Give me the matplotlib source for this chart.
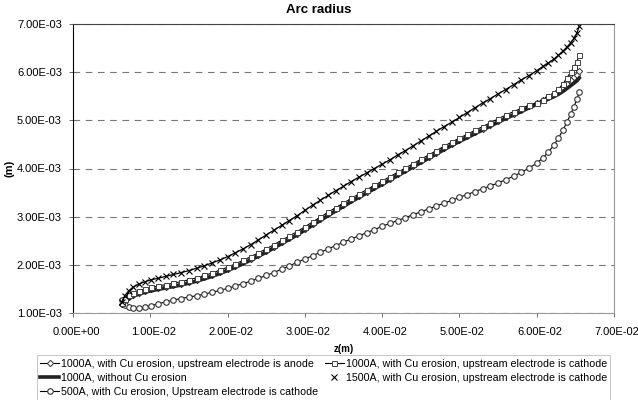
import numpy as np
import matplotlib
matplotlib.use("Agg")
import matplotlib.pyplot as plt
from matplotlib.ticker import FuncFormatter, MultipleLocator
from matplotlib.transforms import ScaledTranslation

plt.rcParams['font.family'] = ['Liberation Sans', 'DejaVu Sans']

# axial position z (mm), shared by all series
z_mm = [6.3, 6.7, 7.2, 7.8, 8.5, 9.3, 10.1, 11.0,
        12, 13, 14, 15, 16, 17, 18, 19, 20, 21, 22, 23, 24, 25, 26, 27, 28, 29,
        30, 31, 32, 33, 34, 35, 36, 37, 38, 39, 40, 41, 42, 43, 44, 45, 46, 47,
        48, 49, 50, 51, 52, 53, 54, 55, 56, 57, 58, 59, 60,
        60.8, 61.5, 62.2, 62.8, 63.4, 63.9, 64.4, 64.8, 65.2, 65.5]

# arc radius (mm) for each case
r_anode = [1.18, 1.27, 1.33, 1.38, 1.42, 1.46, 1.49, 1.52,
           1.55, 1.58, 1.61, 1.65, 1.69, 1.74, 1.79, 1.85, 1.91, 1.98, 2.05, 2.13, 2.21, 2.29, 2.38, 2.47, 2.56, 2.65,
           2.75, 2.85, 2.95, 3.05, 3.15, 3.24, 3.34, 3.43, 3.52, 3.61, 3.70, 3.79, 3.88, 3.97, 4.06, 4.15, 4.24, 4.33,
           4.42, 4.51, 4.59, 4.67, 4.75, 4.83, 4.91, 4.99, 5.07, 5.14, 5.21, 5.29, 5.36,
           5.42, 5.48, 5.54, 5.60, 5.67, 5.75, 5.83, 5.89, 5.95, 6.02]
r_no_cu = [1.16, 1.24, 1.30, 1.35, 1.39, 1.43, 1.46, 1.49,
           1.52, 1.55, 1.58, 1.62, 1.66, 1.71, 1.76, 1.82, 1.88, 1.95, 2.02, 2.10, 2.18, 2.26, 2.35, 2.44, 2.53, 2.62,
           2.72, 2.82, 2.92, 3.02, 3.12, 3.21, 3.31, 3.40, 3.49, 3.58, 3.67, 3.76, 3.85, 3.94, 4.03, 4.12, 4.21, 4.30,
           4.39, 4.48, 4.56, 4.64, 4.72, 4.80, 4.88, 4.96, 5.04, 5.11, 5.18, 5.26, 5.33,
           5.39, 5.44, 5.49, 5.54, 5.60, 5.66, 5.72, 5.77, 5.82, 5.88]
r_500a = [1.26, 1.17, 1.12, 1.10, 1.10, 1.12, 1.15, 1.19,
          1.23, 1.27, 1.30, 1.33, 1.36, 1.39, 1.43, 1.47, 1.51, 1.56, 1.61, 1.66, 1.72, 1.78, 1.84, 1.91, 1.98, 2.05,
          2.12, 2.19, 2.26, 2.33, 2.40, 2.47, 2.54, 2.60, 2.67, 2.73, 2.80, 2.86, 2.92, 2.98, 3.04, 3.10, 3.16, 3.22,
          3.28, 3.34, 3.40, 3.46, 3.52, 3.58, 3.64, 3.70, 3.77, 3.84, 3.92, 4.01, 4.11,
          4.22, 4.34, 4.48, 4.63, 4.80, 4.96, 5.13, 5.28, 5.44, 5.58]
r_cathode = [1.20, 1.30, 1.37, 1.42, 1.46, 1.50, 1.53, 1.56,
             1.59, 1.62, 1.65, 1.69, 1.73, 1.78, 1.83, 1.89, 1.95, 2.02, 2.09, 2.17, 2.25, 2.33, 2.42, 2.51, 2.60, 2.69,
             2.79, 2.89, 2.99, 3.09, 3.19, 3.28, 3.38, 3.47, 3.56, 3.65, 3.74, 3.83, 3.92, 4.01, 4.10, 4.19, 4.28, 4.37,
             4.46, 4.55, 4.63, 4.71, 4.79, 4.87, 4.95, 5.03, 5.11, 5.18, 5.25, 5.31, 5.37,
             5.43, 5.50, 5.57, 5.65, 5.76, 5.88, 6.00, 6.10, 6.22, 6.35]
r_1500a = [1.22, 1.36, 1.46, 1.54, 1.60, 1.65, 1.69, 1.72,
           1.76, 1.80, 1.84, 1.88, 1.93, 1.98, 2.04, 2.10, 2.17, 2.25, 2.33, 2.42, 2.52, 2.62, 2.72, 2.82, 2.92, 3.02,
           3.13, 3.24, 3.34, 3.44, 3.54, 3.63, 3.73, 3.82, 3.91, 4.00, 4.09, 4.18, 4.28, 4.37, 4.47, 4.57, 4.67, 4.77,
           4.87, 4.96, 5.06, 5.16, 5.26, 5.36, 5.45, 5.55, 5.64, 5.74, 5.84, 5.93, 6.03,
           6.12, 6.19, 6.27, 6.35, 6.44, 6.52, 6.61, 6.70, 6.81, 6.95]

labels = ["1000A, with Cu erosion, upstream electrode is anode",
          "1000A, without Cu erosion",
          "500A, with Cu erosion, Upstream electrode is cathode",
          "1000A, with Cu erosion, upstream electrode is cathode",
          "1500A, with Cu erosion, upstream electrode is cathode"]

z = np.array(z_mm) * 1e-3

fig = plt.figure(figsize=(6.38, 4.0), dpi=100)
ax = fig.add_axes([0.1144, 0.2175, 0.848, 0.7225])

h_anode, = ax.plot(z, np.array(r_anode) * 1e-3, color='black', lw=0.8, marker='D', ms=3.2,
                   mfc='white', mec='#333333', mew=0.7, label=labels[0])
h_nocu, = ax.plot(z, np.array(r_no_cu) * 1e-3, color='#222222', lw=2.6, label=labels[1])
h_500, = ax.plot(z, np.array(r_500a) * 1e-3, color='black', lw=0.8, marker='o', ms=4.0,
                 mfc='white', mec='#333333', mew=0.8, label=labels[2])
h_cath, = ax.plot(z, np.array(r_cathode) * 1e-3, color='black', lw=0.8, marker='s', ms=3.6,
                  mfc='white', mec='#444444', mew=0.7, label=labels[3])
ax.plot(z, np.array(r_1500a) * 1e-3, color='black', lw=0.9)
h_1500, = ax.plot(z, np.array(r_1500a) * 1e-3, ls='none', marker='x', ms=4.5,
                  mec='black', mew=0.8, label=labels[4])

ax.set_xlim(0, 0.07)
ax.set_ylim(1e-3, 7e-3)
ax.xaxis.set_major_locator(MultipleLocator(0.01))
ax.yaxis.set_major_locator(MultipleLocator(0.001))
fmt = FuncFormatter(lambda v, pos: f"{v:.2E}")
ax.xaxis.set_major_formatter(fmt)
ax.yaxis.set_major_formatter(fmt)
ax.tick_params(axis='both', labelsize=8, length=3, width=0.6, color='#555555')
ax.tick_params(axis='x', pad=7)
ax.tick_params(axis='y', pad=5)

# x tick labels sit a little right of their ticks in the original
shift = ScaledTranslation(3 / 100, 0, fig.dpi_scale_trans)
for lab in ax.get_xticklabels():
    lab.set_transform(lab.get_transform() + shift)

ax.yaxis.grid(True, color='#777777', lw=0.8, ls=(0, (6, 5)))
ax.set_axisbelow(True)

for side in ['right', 'bottom']:
    ax.spines[side].set_color('#999999')
ax.spines['top'].set_color('#444444')
ax.spines['top'].set_linestyle((0, (2, 1)))
ax.spines['left'].set_color('black')
for s in ax.spines.values():
    s.set_linewidth(0.8)

fig.text(0.5, 0.975, "Arc radius", fontsize=9.5, fontweight='bold', ha='center', va='center')
ax.set_ylabel("(m)", fontsize=8, fontweight='bold', labelpad=2)
ax.set_xlabel("z(m)", fontsize=7, fontweight='bold', labelpad=5)

leg = fig.legend(handles=[h_anode, h_nocu, h_500, h_cath, h_1500], ncol=2,
                 loc='upper left', bbox_to_anchor=(0.05, 0.125), fontsize=7.7,
                 frameon=True, fancybox=False, edgecolor='#aaaaaa',
                 handlelength=1.7, handletextpad=0.2, columnspacing=0.7,
                 labelspacing=0.4, borderpad=0.3)
leg.get_frame().set_linewidth(0.6)

fig.savefig("out.png", dpi=100)
